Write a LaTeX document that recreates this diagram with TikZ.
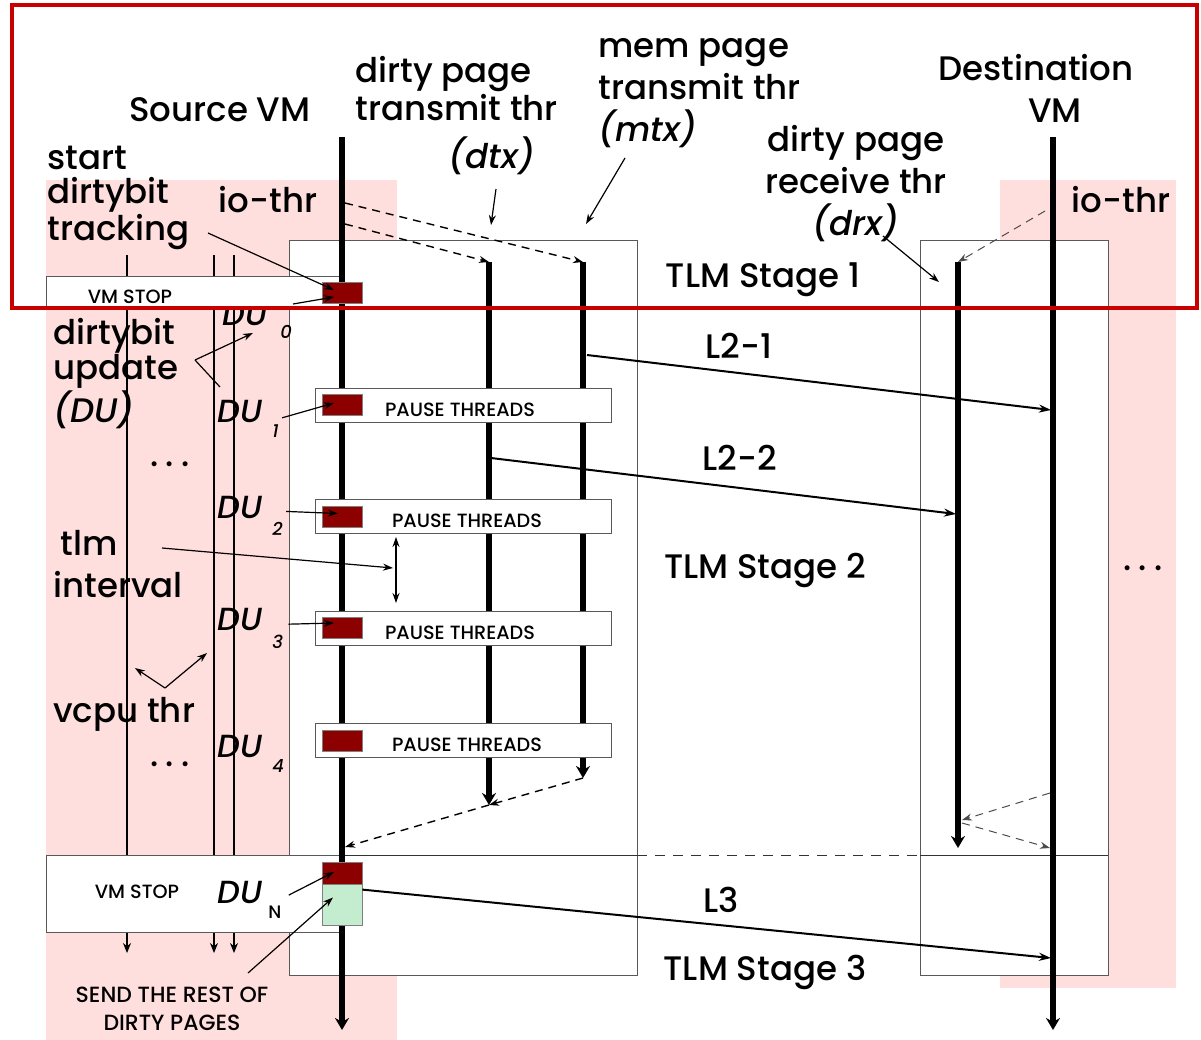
\documentclass[tikz,border=0pt]{standalone}
\usepackage{fontspec}
\setmainfont{Poppins}[UprightFont={* Medium},ItalicFont={* Medium Italic}]
\usetikzlibrary{arrows.meta,positioning,calc}

\definecolor{vmpink}{RGB}{255,222,222}
\definecolor{dirtyred}{RGB}{140,0,0}
\definecolor{restgreen}{RGB}{196,236,206}
\definecolor{framered}{RGB}{200,0,0}

\begin{document}
\begin{tikzpicture}[x=0.5pt,y=-0.5pt,>=Stealth,
  thr/.style={line width=3pt,-{Stealth[length=6pt,width=7pt]}},
  vcpu/.style={line width=0.6pt},
  link/.style={line width=1pt,-{Stealth[length=6pt,width=4pt]}},
  ptr/.style={line width=0.6pt,-{Stealth[length=5pt,width=3.5pt]}},
  ctl/.style={line width=0.7pt,dash pattern=on 4pt off 3pt,-{Stealth[length=5pt,width=3.5pt]}},
  whitebox/.style={draw=black!65,line width=0.5pt,fill=white,inner sep=0pt},
  dubox/.style={draw=black!50,line width=0.4pt,fill=dirtyred,minimum width=20pt,minimum height=10.5pt,inner sep=0pt},
  lbl/.style={font=\fontsize{17}{20.5}\selectfont,inner sep=0pt},
  dutxt/.style={font=\fontsize{16}{16}\selectfont\itshape,inner sep=0pt},
  subtxt/.style={font=\fontsize{9}{9}\selectfont\itshape,inner sep=0pt},
  capstxt/.style={font=\fontsize{9.6}{12}\selectfont,inner sep=0pt}]
  \useasboundingbox (0,0) rectangle (1201,1040);

  % VM areas
  \fill[vmpink] (46,180) rectangle (397,1040);
  \fill[vmpink] (1000,180) rectangle (1176,988);

  % TLM stage boxes
  \draw[whitebox] (289,240) rectangle (637,975);
  \draw[whitebox] (920,240) rectangle (1108,975);
  \draw[black!80,line width=0.5pt] (289,855) -- (637,855);
  \draw[black!80,line width=0.5pt,dash pattern=on 5pt off 4pt] (637,855) -- (920,855);
  \draw[black!80,line width=0.5pt] (920,855) -- (1108,855);

  % vcpu threads
  \foreach \x in {127,214,234}{
    \draw[vcpu] (\x,255) -- (\x,855);
    \draw[vcpu,-{Stealth[length=5pt,width=4pt]}] (\x,932) -- (\x,953);
  }
  \node[dutxt,anchor=base west] (du0) at (222,325) {DU};
  \node[subtxt,anchor=base west] (dusub0) at (280,338) {0};

  % VM STOP bars
  \node[whitebox,minimum width=148pt,minimum height=15pt] (stop1) at (194,291) {};
  \node[whitebox,minimum width=148pt,minimum height=38.5pt] (stop2) at (194,893.5) {};
  \node[capstxt,anchor=base] (stoptxt1) at (130,303) {VM STOP};
  \node[capstxt,anchor=base] (stoptxt2) at (137,898) {VM STOP};

  % main threads
  \coordinate (srctop) at (342,137);
  \coordinate (srcbot) at (342,1030);
  \coordinate (dtxtop) at (489,262);
  \coordinate (dtxbot) at (489,805);
  \coordinate (mtxtop) at (583,262);
  \coordinate (mtxbot) at (583,778);
  \coordinate (drxtop) at (958,262);
  \coordinate (drxbot) at (958,848);
  \coordinate (dsttop) at (1053,137);
  \coordinate (dstbot) at (1053,1030);
  \foreach \t in {src,dtx,mtx,drx,dst}
    \draw[thr] (\t top) -- (\t bot);

  % pause points
  \foreach \i/\y/\tx in {1/405/460,2/516.5/467,3/628/460,4/740.5/467}{
    \node[whitebox,minimum width=148pt,minimum height=17pt] (pause\i) at (463,\y) {};
    \node[dubox] (dirty\i) at (342,\y) {};
    \node[capstxt,anchor=base] (pausetxt\i) at (\tx,\y+11) {PAUSE THREADS};
  }
  \node[dubox] (dirty0) at (342,293) {};
  \node[dubox,minimum height=11pt] (dirtyN) at (342,873) {};
  \node[dubox,fill=restgreen,minimum height=20.5pt] (rest) at (342,904.5) {};

  % dirtybit update labels
  \foreach \n/\y/\s in {1/422/437,2/518/535,3/630/648,4/757/772}{
    \node[dutxt,anchor=base west] (du\n) at (217,\y) {DU};
    \node[subtxt,anchor=base west] (dusub\n) at (272,\s) {\n};
  }
  \node[dutxt,anchor=base west] (duN) at (217,903) {DU};
  \node[subtxt,font=\fontsize{9}{9}\selectfont,anchor=base west] (dusubN) at (268,918) {N};

  % texts (multi-line nodes sit on their last baseline)
  \node[lbl,anchor=base] (srcvm) at (220,121) {Source VM};
  \node[lbl,anchor=base west,align=left,font=\fontsize{17}{17.5}\selectfont] (dtxname) at (355,120) {dirty page\\transmit thr};
  \node[lbl,anchor=base,font=\fontsize{17}{20.5}\selectfont\itshape] (dtxabbr) at (492,168) {(dtx)};
  \node[lbl,anchor=base west,align=left,font=\fontsize{17}{21}\selectfont] (mtxname) at (598,141) {mem page\\transmit thr\\\textit{(mtx)}};
  \node[lbl,anchor=base] (dstname) at (1036,80) {Destination};
  \node[lbl,anchor=base] (dstvm) at (1055,122) {VM};
  \node[lbl,anchor=base,align=center,font=\fontsize{17}{21}\selectfont] (drxname) at (856,235) {dirty page\\receive thr\\\textit{(drx)}};
  \node[lbl,anchor=base west,align=left,font=\fontsize{17}{17}\selectfont] (track) at (47,240) {start\\dirtybit\\tracking};
  \node[lbl,anchor=base] (srcio) at (268,212) {io−thr};
  \node[lbl,anchor=base] (dstio) at (1121,212) {io−thr};
  \node[lbl,anchor=base] (stage1) at (763,287) {TLM Stage 1};
  \node[lbl,anchor=base] (stage2) at (765,578) {TLM Stage 2};
  \node[lbl,anchor=base] (stage3) at (765,980) {TLM Stage 3};
  \node[lbl,anchor=base west,align=left,font=\fontsize{17}{17.5}\selectfont] (dulbl) at (53,422) {dirtybit\\update\\\textit{(DU)}};
  \node[lbl,anchor=base west,align=left,font=\fontsize{17}{21}\selectfont] (tlmlbl) at (53,597) {\hspace{3.5pt}tlm\\interval};
  \node[lbl,anchor=base west] (vcpulbl) at (53,722) {vcpu thr};
  \node[lbl,anchor=base] (dots1) at (170,466) {.\hspace{3.5pt}.\hspace{3.5pt}.};
  \node[lbl,anchor=base] (dots2) at (170,766) {.\hspace{3.5pt}.\hspace{3.5pt}.};
  \node[lbl,anchor=base] (dots3) at (1143,570) {.\hspace{3.5pt}.\hspace{3.5pt}.};
  \node[lbl,anchor=base] (l21) at (739,358) {L2−1};
  \node[lbl,anchor=base] (l22) at (740,470) {L2−2};
  \node[lbl,anchor=base] (l3) at (721,912) {L3};
  \node[capstxt,anchor=base,align=center,font=\fontsize{11}{14}\selectfont] (sendtxt) at (172,1030) {SEND THE REST OF\\DIRTY PAGES};

  % pointers from labels
  \coordinate (trackend) at (208,233);
  \coordinate (du0end) at (293,304);
  \coordinate (duvertex) at (195,360);
  \coordinate (du0tip) at (253,333);
  \coordinate (du1end) at (220,387);
  \coordinate (sendend) at (248,973);
  \coordinate (tlmend) at (162,548);
  \coordinate (gaptop) at (396,537);
  \coordinate (gapbot) at (396,603);
  \coordinate (gapmid) at (393,568);
  \coordinate (vcpuvertex) at (165,688);
  \coordinate (vcpuleft) at (135,668);
  \coordinate (vcpuright) at (207,653);
  \coordinate (dtxend) at (496,189);
  \coordinate (dtxtip) at (491,225);
  \coordinate (mtxend) at (625,158);
  \coordinate (mtxtip) at (586,224);
  \coordinate (drxend) at (883,236);
  \coordinate (drxtip) at (939,282);
  \draw[ptr] (trackend) -- ($(dirty0.center)+(-8,-3)$);
  \draw[ptr] (du0end) -- ($(dirty0.center)+(-8,4)$);
  \draw[ptr] (duvertex) -- (du0tip);
  \draw[vcpu] (duvertex) -- (du1end);
  \draw[ptr] (dusub1.north east) ++(3,-6) -- ($(dirty1.center)+(-8,-2)$);
  \draw[ptr] (dusub2.north east) ++(3,-10) -- ($(dirty2.center)+(-4,-3)$);
  \draw[ptr] (dusub3.north east) ++(5,-10) -- ($(dirty3.center)+(-8,-5)$);
  \draw[ptr] (dusubN.north east) ++(7,-10) -- ($(dirtyN.center)+(-8,-1)$);
  \draw[ptr] (sendend) -- ($(rest.center)+(-9,-7)$);
  \draw[ptr] (tlmend) -- (gapmid);
  \draw[ptr,{Stealth[length=5pt,width=3.5pt]}-{Stealth[length=5pt,width=3.5pt]}] (gaptop) -- (gapbot);
  \draw[ptr] (vcpuvertex) -- (vcpuleft);
  \draw[ptr] (vcpuvertex) -- (vcpuright);
  \draw[ptr] (dtxend) -- (dtxtip);
  \draw[ptr] (mtxend) -- (mtxtip);
  \draw[ptr] (drxend) -- (drxtip);

  % io-thr control signals
  \coordinate (srcio1) at (345,203);
  \coordinate (srcio2) at (345,224);
  \coordinate (dstio1) at (1045,211);
  \coordinate (srcjoin) at (345,847);
  \coordinate (dstout) at (1050,793);
  \coordinate (drxin) at (962,820);
  \coordinate (drxout) at (962,823);
  \coordinate (dstin) at (1050,848);
  \draw[ctl] (srcio1) -- (mtxtop);
  \draw[ctl] (srcio2) -- (dtxtop);
  \draw[ctl,black!70,line width=0.5pt] (dstio1) -- (drxtop);
  \draw[ctl] (mtxbot) -- (dtxbot);
  \draw[ctl] (dtxbot) -- (srcjoin);
  \draw[ctl,black!70,line width=0.5pt] (dstout) -- (drxin);
  \draw[ctl,black!70,line width=0.5pt] (drxout) -- (dstin);

  % page transfer links
  \coordinate (l21from) at (587,355);
  \coordinate (l21to) at (1051,410);
  \coordinate (l22from) at (491,458);
  \coordinate (l22to) at (956,514);
  \coordinate (l3to) at (1051,958);
  \draw[link] (l21from) -- (l21to);
  \draw[link] (l22from) -- (l22to);
  \draw[link] (rest.north east) ++(0,6) -- (l3to);

  % highlight frame
  \draw[framered,line width=2pt] (12,5) rectangle (1197,308);
\end{tikzpicture}
\end{document}
